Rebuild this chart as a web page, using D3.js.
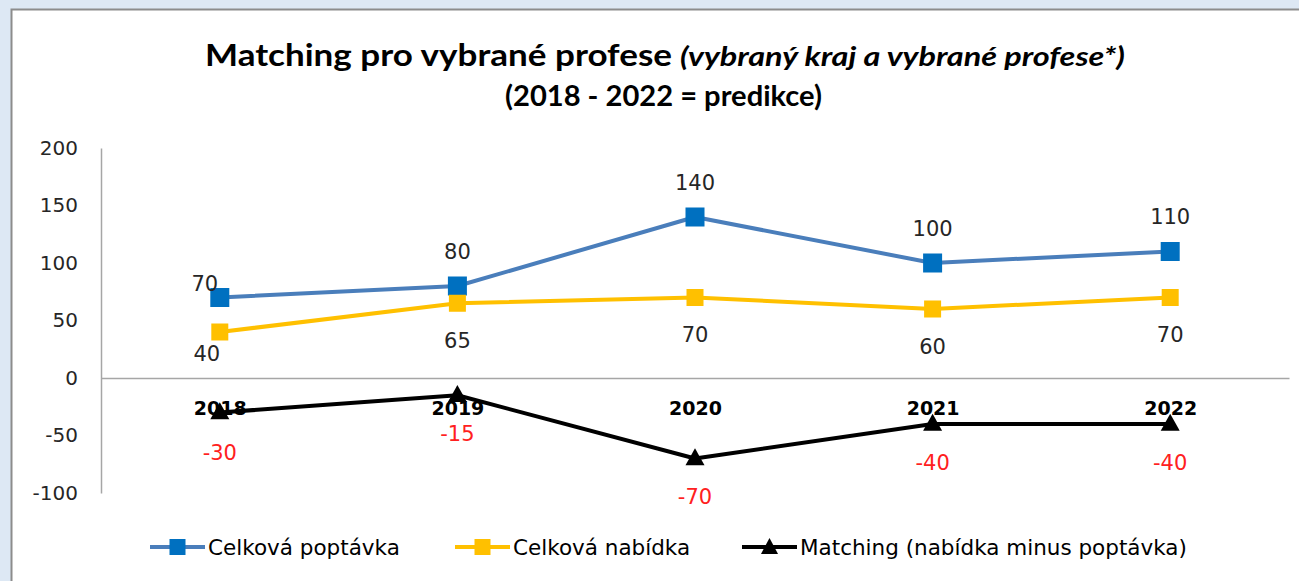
<!DOCTYPE html>
<html><head><meta charset="utf-8">
<script src="https://cdn.jsdelivr.net/npm/d3@7"></script>
<style>body{margin:0;background:#dde8f4;} svg{display:block;}</style>
</head><body>
<svg id="c" width="1299" height="581"></svg>
<script>
const categories = ["2018", "2019", "2020", "2021", "2022"];
const poptavka = [70, 80, 140, 100, 110];
const nabidka = [40, 65, 70, 60, 70];
const matching = [-30, -15, -70, -40, -40];
const yTicks = [200, 150, 100, 50, 0, -50, -100];
const seriesNames = ["Celková poptávka", "Celková nabídka", "Matching (nabídka minus poptávka)"];
const titleMain = "Matching pro vybrané profese";
const titleItalic = "(vybraný kraj a vybrané profese*)";
const titleSub = "(2018 - 2022 = predikce)";

const svg = d3.select("#c");
const W = 1299, H = 581;
const FONT = "'DejaVu Sans', sans-serif";
const TFONT = "Lato, sans-serif";

// frame
svg.append("rect").attr("width", W).attr("height", H).attr("fill", "#dde8f4");
svg.append("rect").attr("x", 11.5).attr("y", 9.5).attr("width", W).attr("height", H)
  .attr("fill", "#fff").attr("stroke", "#8c8c8c").attr("stroke-width", 2);

// title
svg.append("text").attr("x", 205).attr("y", 66)
  .attr("font-family", TFONT).attr("font-size", 30).attr("font-weight", "bold").attr("fill", "#000")
  .attr("textLength", 467).attr("lengthAdjust", "spacingAndGlyphs").text(titleMain);
svg.append("text").attr("x", 680).attr("y", 66)
  .attr("font-family", TFONT).attr("font-size", 26).attr("font-weight", "bold").attr("font-style", "italic").attr("fill", "#000")
  .attr("textLength", 445).attr("lengthAdjust", "spacingAndGlyphs").text(titleItalic);
svg.append("text").attr("x", 505).attr("y", 106)
  .attr("font-family", TFONT).attr("font-size", 29).attr("font-weight", "bold").attr("fill", "#000")
  .attr("textLength", 317).attr("lengthAdjust", "spacingAndGlyphs").text(titleSub);

// scales
const x = d3.scalePoint().domain(categories).range([101, 1289]).padding(0.5);
const y = d3.scaleLinear().domain([-100, 200]).range([493, 148]);

// y axis
const yAxis = svg.append("g").attr("transform", "translate(101,0)")
  .call(d3.axisLeft(y).tickValues(yTicks).tickSize(0).tickPadding(23).tickFormat(d => String(d)));
yAxis.select(".domain").attr("stroke", "#a6a6a6").attr("stroke-width", 1.5);
yAxis.selectAll("text").attr("font-family", FONT).attr("font-size", 20).attr("fill", "#262626");

// zero line / x axis
const xAxis = svg.append("g").attr("transform", `translate(0,${y(0)})`)
  .call(d3.axisBottom(x).tickSize(0).tickPadding(24));
xAxis.select(".domain").attr("stroke", "#a6a6a6").attr("stroke-width", 1.5);
xAxis.selectAll("text").attr("font-family", FONT).attr("font-size", 19).attr("font-weight", "bold").attr("fill", "#000");

// series
const series = [
  {vals: poptavka, line: "#4a7ebb", mark: "#0070c0", shape: "square", size: 19, lab: -35, labColor: "#262626"},
  {vals: nabidka, line: "#ffc000", mark: "#ffc000", shape: "square", size: 17, lab: 37, labColor: "#262626"},
  {vals: matching, line: "#000000", mark: "#000000", shape: "tri", size: 19, lab: 38, labColor: "#ff2020"}
];
// manual label nudges (as in the original chart) for the first category
const labelNudge = [{dx: -15, dy: 21}, {dx: -13, dy: -16}, {dx: 0, dy: 2}];

const line = d3.line().x((d, i) => x(categories[i])).y(d => y(d));
series.forEach((s, si) => {
  const g = svg.append("g");
  g.append("path").attr("d", line(s.vals)).attr("fill", "none")
    .attr("stroke", s.line).attr("stroke-width", 4).attr("stroke-linejoin", "round");
  s.vals.forEach((v, i) => {
    const cx = x(categories[i]), cy = y(v);
    if (s.shape === "square") {
      g.append("rect").attr("x", cx - s.size / 2).attr("y", cy - s.size / 2)
        .attr("width", s.size).attr("height", s.size).attr("fill", s.mark);
    } else {
      const h = s.size * 0.9;
      g.append("path").attr("d", `M${cx},${cy - h * 0.6}L${cx + s.size / 2},${cy + h * 0.4}L${cx - s.size / 2},${cy + h * 0.4}Z`)
        .attr("fill", s.mark);
    }
  });
});
series.forEach((s, si) => {
  s.vals.forEach((v, i) => {
    const n = i === 0 ? labelNudge[si] : {dx: 0, dy: 0};
    svg.append("text").attr("x", x(categories[i]) + n.dx).attr("y", y(v) + s.lab + n.dy)
      .attr("dy", "0.36em").attr("text-anchor", "middle")
      .attr("font-family", FONT).attr("font-size", 21).attr("fill", s.labColor).text(v);
  });
});

// legend
const legX = [150, 455, 742];
const legY = 547;
series.forEach((s, i) => {
  const g = svg.append("g").attr("transform", `translate(${legX[i]},${legY})`);
  g.append("line").attr("x1", 0).attr("x2", 55).attr("stroke", s.line).attr("stroke-width", 4);
  if (s.shape === "square") {
    g.append("rect").attr("x", 27.5 - 8).attr("y", -8).attr("width", 16).attr("height", 16).attr("fill", s.mark);
  } else {
    g.append("path").attr("d", "M27.5,-9L36,7L19,7Z").attr("fill", s.mark);
  }
  g.append("text").attr("x", 58).attr("dy", "0.36em").attr("font-family", FONT)
    .attr("font-size", 21.5).attr("fill", "#000").text(seriesNames[i]);
});
</script>
</body></html>
